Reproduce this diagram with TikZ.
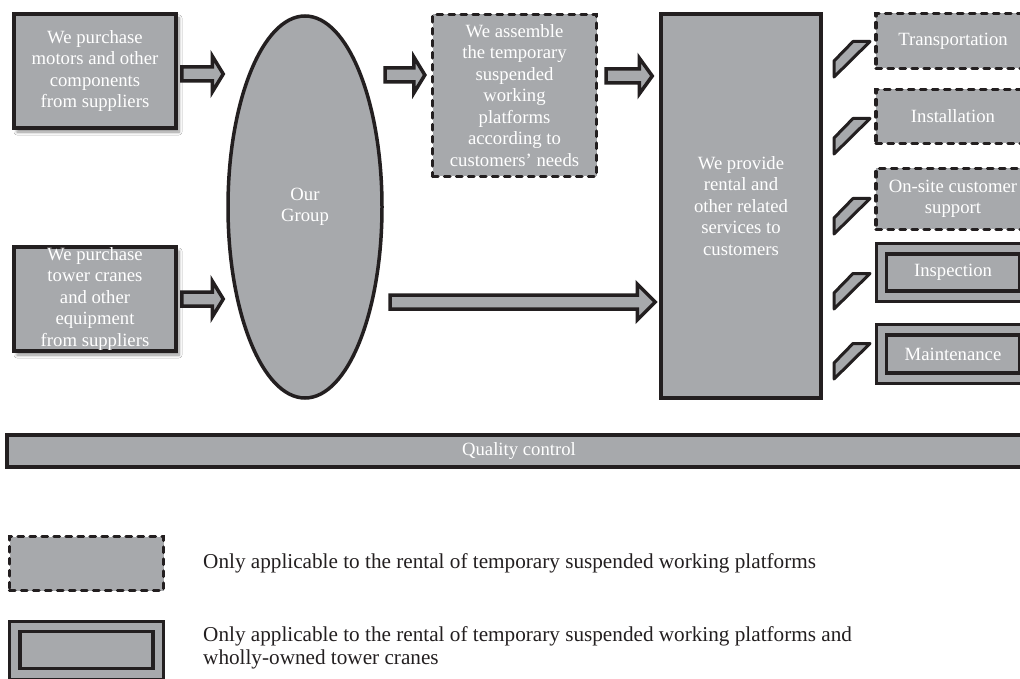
\documentclass[tikz,border=0pt]{standalone}
\usepackage{fontspec}
\setmainfont{Liberation Serif}
\usetikzlibrary{calc,shadows.blur,shapes.geometric}

\definecolor{panel}{HTML}{A7A9AC}
\definecolor{ink}{HTML}{231F20}

\tikzset{
  x=1pt, y=-1pt,
  boxtext/.style={font=\fontsize{18.7}{21.5}\selectfont, text=white, align=center},
  base/.style={boxtext, fill=panel, draw=ink, inner sep=0pt, line join=miter},
  solidbox/.style={base, rectangle, line width=3.5pt},
  shadowbox/.style={solidbox, blur shadow={shadow xshift=3pt, shadow yshift=-4pt,
      shadow blur steps=6, shadow blur radius=3pt, shadow opacity=45}},
  dashbox/.style={base, rectangle, line width=3.3pt, line cap=round,
      dash pattern=on 5.5pt off 6.5pt},
  framebox/.style={base, rectangle, line width=3pt},
  innerframe/.style={draw=ink, line width=3.5pt},
  oval/.style={base, ellipse, line width=3.5pt},
  fatarrow/.style={fill=panel, draw=ink, line width=3.5pt, line join=miter},
  tabshape/.style={fill=panel, draw=ink, line width=3pt, line join=round},
  legendtext/.style={font=\fontsize{21.2}{23.5}\selectfont, text=ink, align=left, anchor=west, inner sep=0pt},
}

% block arrow between two named points: shaft half-width 7, head half-width 18
\newcommand{\blockarrow}[3]{%
  \draw[fatarrow] let \p1=(#1), \p2=(#2) in
    (\x1,\y1+7) -- (\x2-#3,\y1+7) -- (\x2-#3,\y1+18) -- (\x2,\y1)
    -- (\x2-#3,\y1-18) -- (\x2-#3,\y1-7) -- (\x1,\y1-7) -- cycle;}

% small slanted tab in front of a service box, top edge at #1
\newcommand{\servicetab}[1]{%
  \draw[tabshape] (834,#1+37) -- (834,#1+21) -- (853,#1+1.5) -- (870,#1+1.5) -- cycle;}

% double-framed box: inner frame inset by 12
\newcommand{\innerframe}[1]{%
  \draw[innerframe] ($(#1.north west)+(12,12)$) rectangle ($(#1.south east)+(-12,-12)$);}

\begin{document}
\begin{tikzpicture}
\useasboundingbox (0,0) rectangle (1020,679);
\fill[white] (0,0) rectangle (1020,679);
\clip (0,0) rectangle (1020,679);

% suppliers
\node[shadowbox, minimum width=162, minimum height=114] (motors) at (95,71)
  {We purchase\\motors and other\\components\\from suppliers};
\node[shadowbox, minimum width=162, minimum height=104] (tower) at (95,299)
  {We purchase\\tower cranes\\and other\\equipment\\from suppliers};

% the group
\node[oval, minimum width=154, minimum height=382] (group) at (305,207) {Our\\Group};

% assembly and services
\node[dashbox, minimum width=164, minimum height=162] (assemble) at (514.5,95.5)
  {We assemble\\the temporary\\suspended\\working\\platforms\\according to\\customers' needs};
\node[solidbox, minimum width=160, minimum height=384] (provide) at (741,206)
  {We provide\\rental and\\other related\\services to\\customers};

% service list
\node[dashbox, minimum width=154, minimum height=55] (transport) at (953,41) {Transportation};
\node[dashbox, minimum width=154, minimum height=54] (install) at (953,116.5) {Installation};
\node[dashbox, minimum width=154, minimum height=61] (onsite) at (953,199) {On-site customer\\support};
\node[framebox, minimum width=154, minimum height=58] (inspect) at (953,272.5) {Inspection};
\innerframe{inspect}
\node[framebox, minimum width=154, minimum height=59] (maint) at (953,354) {Maintenance};
\innerframe{maint}

\servicetab{40}
\servicetab{117}
\servicetab{197}
\servicetab{272}
\servicetab{342}

% quality control bar
\node[solidbox, minimum width=1024, minimum height=32] (quality) at (519,451) {Quality control};

% arrow end points
\coordinate (a1s) at ($(motors.east |- 0,74)+(4,0)$);
\coordinate (a1e) at ($(group.west |- 0,74)+(-3,0)$);
\coordinate (a2s) at ($(tower.east |- 0,299)+(4,0)$);
\coordinate (a2e) at ($(group.west |- 0,299)+(-3,0)$);
\coordinate (a3s) at (385,75);
\coordinate (a3e) at ($(assemble.west |- 0,75)+(-6,0)$);
\coordinate (a4s) at ($(assemble.east |- 0,76)+(8,0)$);
\coordinate (a4e) at ($(provide.west |- 0,76)+(-7,0)$);
\coordinate (a5s) at (390,302);
\coordinate (a5e) at ($(provide.west |- 0,302)+(-4,0)$);

\blockarrow{a1s}{a1e}{11}
\blockarrow{a2s}{a2e}{11}
\blockarrow{a3s}{a3e}{11}
\blockarrow{a4s}{a4e}{13}
\blockarrow{a5s}{a5e}{18}

% legend
\node[dashbox, minimum width=154, minimum height=54] (keydash) at (86.5,563.5) {};
\node[framebox, minimum width=154, minimum height=58] (keyframe) at (86.5,650) {};
\innerframe{keyframe}
\node[legendtext] (keydashtext) at (203,563)
  {Only applicable to the rental of temporary suspended working platforms};
\node[legendtext] (keyframetext) at (203,648)
  {Only applicable to the rental of temporary suspended working platforms and\\wholly-owned tower cranes};
\end{tikzpicture}
\end{document}
